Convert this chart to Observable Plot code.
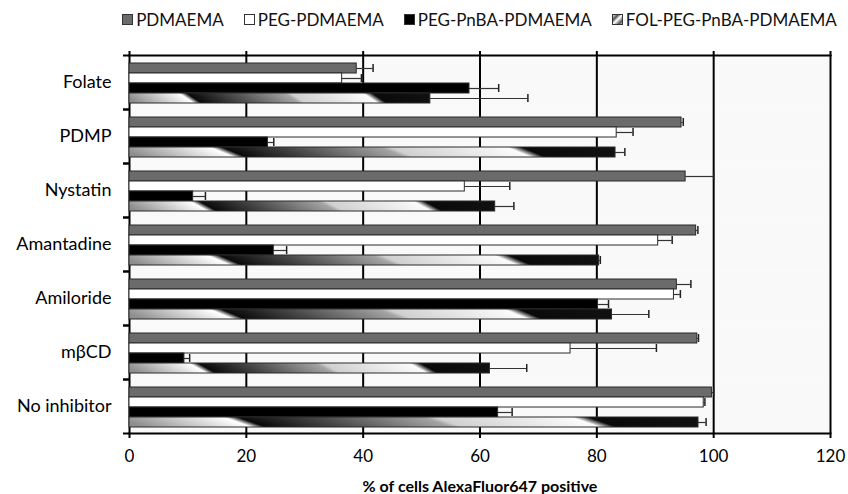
<!DOCTYPE html>
<html><head><meta charset="utf-8">
<script src="https://cdn.jsdelivr.net/npm/d3@7"></script>
<script src="https://cdn.jsdelivr.net/npm/@observablehq/plot@0.6"></script>
<style>
body{margin:0;background:#fff;font-family:Lato,sans-serif;}
#wrap{width:848px;height:494px;position:relative;overflow:hidden;background:#fff}
#legend{height:38px;display:flex;align-items:center;justify-content:center;gap:20px;font-size:17px;color:#111;padding-left:111px;box-sizing:border-box}
.item{display:flex;align-items:center;gap:3px}
.sw{width:11px;height:11px;display:block}
</style></head><body>
<div id="wrap"><div id="legend"></div><div id="chart"></div></div>
<script>
const categories = ["Folate", "PDMP", "Nystatin", "Amantadine", "Amiloride", "mβCD", "No inhibitor"];
const series = ["PDMAEMA", "PEG-PDMAEMA", "PEG-PnBA-PDMAEMA", "FOL-PEG-PnBA-PDMAEMA"];
const pdmaema        = [38.9, 94.5, 95.2, 97.0, 93.7, 97.2, 99.7];
const pdmaemaErr     = [2.8, 0.3, 4.8, 0.3, 2.4, 0.2, 0.3];
const pegPdmaema     = [36.4, 83.4, 57.4, 90.5, 93.2, 75.5, 98.3];
const pegPdmaemaErr  = [3.3, 2.8, 7.7, 2.4, 1.1, 14.7, 0.2];
const pegPnba        = [58.2, 23.7, 10.9, 24.7, 80.2, 9.4, 63.1];
const pegPnbaErr     = [5.0, 1.0, 2.1, 2.2, 1.8, 0.9, 2.4];
const folPegPnba     = [51.5, 83.2, 62.6, 80.4, 82.6, 61.7, 97.4];
const folPegPnbaErr  = [16.7, 1.6, 3.2, 0.2, 6.3, 6.3, 1.3];
const xTicks = [0, 20, 40, 60, 80, 100, 120];
const seriesColors = ["#6b6b6b", "#ffffff", "#000000", "url(#folGrad)"];
const xLabel = "% of cells AlexaFluor647 positive";

const values = [pdmaema, pegPdmaema, pegPnba, folPegPnba];
const errors = [pdmaemaErr, pegPdmaemaErr, pegPnbaErr, folPegPnbaErr];
const rows = [];
categories.forEach((c, i) => series.forEach((s, j) => rows.push({category: c, series: s, value: values[j][i], error: errors[j][i]})));
const errRows = rows.filter(d => d.error > 0);

const chart = Plot.plot({
  width: 848, height: 456,
  marginTop: 17, marginBottom: 61, marginLeft: 129, marginRight: 18,
  style: {fontFamily: "Lato, sans-serif", fontSize: "17px", color: "#000", background: "transparent", overflow: "visible"},
  x: {domain: [0, 120]},
  y: {domain: series, paddingInner: 0, paddingOuter: 0.7, align: 0.57, axis: null},
  fy: {domain: categories, padding: 0, axis: null},
  color: {domain: series, range: seriesColors},
  marks: [
    Plot.frame({fill: "#f9f9f9", stroke: null}),
    Plot.ruleX(xTicks, {stroke: "#000", strokeWidth: 2}),
    Plot.barX(rows, {fy: "category", y: "series", x: "value", fill: "series", stroke: "#2a2a2a", strokeWidth: 1}),
    Plot.ruleY(errRows, {fy: "category", y: "series", x1: "value", x2: d => d.value + d.error, stroke: "#333", strokeWidth: 1.2}),
    Plot.tickX(errRows, {fy: "category", y: "series", x: d => d.value + d.error, stroke: "#222", strokeWidth: 1.5, insetTop: 1, insetBottom: 1}),
    Plot.frame({anchor: "top", facetAnchor: "top", stroke: "#000", strokeWidth: 2}),
    Plot.frame({anchor: "bottom", facetAnchor: "bottom", stroke: "#000", strokeWidth: 2}),
    Plot.axisX({anchor: "top", ticks: xTicks, tickSize: 5, tickFormat: () => "", strokeWidth: 2, label: null}),
    Plot.axisX({anchor: "bottom", ticks: xTicks, tickSize: 5, tickPadding: 11, strokeWidth: 2, label: xLabel, labelAnchor: "center", labelOffset: 58, labelArrow: "none"}),
    Plot.axisFy({anchor: "left", tickSize: 0, tickPadding: 18, label: null, fontSize: 18}),
    Plot.axisFy({anchor: "left", tickSize: 6, dy: -27, tickFormat: () => "", strokeWidth: 2, label: null}),
    Plot.axisFy({anchor: "left", tickSize: 6, dy: 27, tickFormat: () => "", strokeWidth: 2, label: null})
  ]
});

const svg = d3.select(chart);
const grad = svg.insert("defs", ":first-child").append("linearGradient")
  .attr("id", "folGrad").attr("x1", 0).attr("y1", 0.5).attr("x2", 1).attr("y2", 0.45);
const stops = [[0, "#8e8e8e"], [0.19, "#ffffff"], [0.215, "#0a0a0a"], [0.36, "#4c4c4c"], [0.54, "#a4a4a4"], [0.56, "#d0d0d0"], [0.8, "#fbfbfb"], [0.83, "#0a0a0a"], [1, "#111"]];
stops.forEach(([o, c]) => grad.append("stop").attr("offset", o).attr("stop-color", c));
svg.selectAll("text").filter(function() { return this.textContent.includes("AlexaFluor"); })
  .each(function() {
    const t = d3.select(this);
    t.selectAll("tspan").each(function() { this.textContent = this.textContent.replace(/\s*[→←]\s*/g, ""); });
    if (!this.children.length) this.textContent = this.textContent.replace(/\s*[→←]\s*/g, "");
  })
  .attr("font-weight", "bold").attr("font-size", 16);
document.getElementById("chart").appendChild(chart);

const legend = d3.select("#legend");
series.forEach((s, j) => {
  const item = legend.append("div").attr("class", "item");
  const sw = item.append("svg").attr("class", "sw").attr("width", 11).attr("height", 11);
  if (j === 3) {
    const g = sw.append("defs").append("linearGradient").attr("id", "legGrad").attr("x1", 0).attr("y1", 0).attr("x2", 1).attr("y2", 1).attr("spreadMethod", "repeat");
    [[0, "#fff"], [0.3, "#555"], [0.5, "#fff"], [0.8, "#555"], [1, "#fff"]].forEach(([o, c]) => g.append("stop").attr("offset", o).attr("stop-color", c));
    sw.append("rect").attr("x", 0.5).attr("y", 0.5).attr("width", 10).attr("height", 10).attr("fill", "url(#legGrad)").attr("stroke", "#333");
  } else {
    sw.append("rect").attr("x", 0.5).attr("y", 0.5).attr("width", 10).attr("height", 10).attr("fill", seriesColors[j]).attr("stroke", "#333");
  }
  item.append("span").text(s);
});
</script>
</body></html>
